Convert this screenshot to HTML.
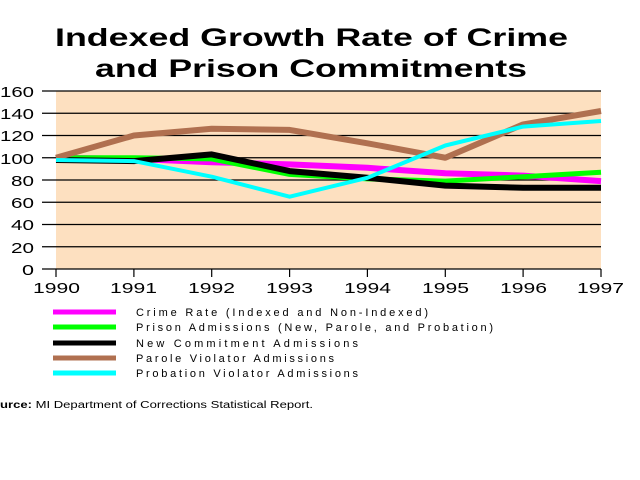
<!DOCTYPE html>
<html><head><style>body{margin:0;background:#fff}svg{display:block}</style></head><body>
<svg width="640" height="480" xmlns="http://www.w3.org/2000/svg" font-family="Liberation Sans, sans-serif">
<text x="55" y="46" font-size="25" font-weight="bold" textLength="513" lengthAdjust="spacingAndGlyphs">Indexed Growth Rate of Crime</text>
<text x="95" y="77" font-size="25" font-weight="bold" textLength="432" lengthAdjust="spacingAndGlyphs">and Prison Commitments</text>
<rect x="56" y="91" width="545" height="178" fill="#fde0c0"/>
<g stroke="#000" stroke-width="1.2">
<line x1="42" y1="91" x2="601" y2="91"/><line x1="42" y1="113.25" x2="601" y2="113.25"/><line x1="42" y1="135.5" x2="601" y2="135.5"/><line x1="42" y1="157.75" x2="601" y2="157.75"/><line x1="42" y1="180" x2="601" y2="180"/><line x1="42" y1="202.25" x2="601" y2="202.25"/><line x1="42" y1="224.5" x2="601" y2="224.5"/><line x1="42" y1="246.75" x2="601" y2="246.75"/><line x1="42" y1="269" x2="601" y2="269"/>
<line x1="56" y1="269" x2="56" y2="277"/><line x1="133.9" y1="269" x2="133.9" y2="277"/><line x1="211.7" y1="269" x2="211.7" y2="277"/><line x1="289.6" y1="269" x2="289.6" y2="277"/><line x1="367.4" y1="269" x2="367.4" y2="277"/><line x1="445.3" y1="269" x2="445.3" y2="277"/><line x1="523.1" y1="269" x2="523.1" y2="277"/><line x1="601" y1="269" x2="601" y2="277"/>
</g>
<g font-size="15">
<text x="0" y="97" textLength="34" lengthAdjust="spacingAndGlyphs">160</text><text x="0" y="119" textLength="34" lengthAdjust="spacingAndGlyphs">140</text><text x="0" y="141" textLength="34" lengthAdjust="spacingAndGlyphs">120</text><text x="0" y="164" textLength="34" lengthAdjust="spacingAndGlyphs">100</text><text x="11" y="186" textLength="23" lengthAdjust="spacingAndGlyphs">80</text><text x="11" y="208" textLength="23" lengthAdjust="spacingAndGlyphs">60</text><text x="11" y="230" textLength="23" lengthAdjust="spacingAndGlyphs">40</text><text x="11" y="253" textLength="23" lengthAdjust="spacingAndGlyphs">20</text><text x="22" y="275" textLength="12" lengthAdjust="spacingAndGlyphs">0</text>
</g>
<g font-size="15">
<text x="33" y="293" textLength="47" lengthAdjust="spacingAndGlyphs">1990</text><text x="110" y="293" textLength="47" lengthAdjust="spacingAndGlyphs">1991</text><text x="188" y="293" textLength="47" lengthAdjust="spacingAndGlyphs">1992</text><text x="266" y="293" textLength="47" lengthAdjust="spacingAndGlyphs">1993</text><text x="344" y="293" textLength="47" lengthAdjust="spacingAndGlyphs">1994</text><text x="422" y="293" textLength="47" lengthAdjust="spacingAndGlyphs">1995</text><text x="500" y="293" textLength="47" lengthAdjust="spacingAndGlyphs">1996</text><text x="577" y="293" textLength="47" lengthAdjust="spacingAndGlyphs">1997</text>
</g>
<g fill="none" stroke-linejoin="round">
<polyline stroke="#ff00ff" stroke-width="6" points="56,157.75 133.9,158.9 211.7,162.2 289.6,164.4 367.4,167.8 445.3,173.3 523.1,175.6 601,181.1"/>
<polyline stroke="#00ff00" stroke-width="5" points="56,157.75 133.9,157.75 211.7,158.9 289.6,174.4 367.4,178.9 445.3,181.1 523.1,176.7 601,172.2"/>
<polyline stroke="#000" stroke-width="6" points="56,160 133.9,161.1 211.7,154.4 289.6,171.1 367.4,177.8 445.3,185.6 523.1,187.8 601,187.8"/>
<polyline stroke="#b07050" stroke-width="6" points="56,157.75 133.9,135.5 211.7,128.8 289.6,129.9 367.4,143.3 445.3,157.75 523.1,124.4 601,111"/>
<polyline stroke="#00ffff" stroke-width="4" points="56,160 133.9,161.1 211.7,176.7 289.6,196.7 367.4,177.8 445.3,145.5 523.1,126.6 601,121"/>
</g>
<g stroke-width="5">
<line x1="53" y1="312" x2="116" y2="312" stroke="#ff00ff"/>
<line x1="53" y1="327" x2="116" y2="327" stroke="#00ff00"/>
<line x1="53" y1="343" x2="116" y2="343" stroke="#000"/>
<line x1="53" y1="358" x2="116" y2="358" stroke="#b07050"/>
<line x1="53" y1="373" x2="116" y2="373" stroke="#00ffff"/>
</g>
<g font-size="11">
<text x="136" y="316" textLength="292">Crime Rate (Indexed and Non-Indexed)</text>
<text x="136" y="331" textLength="357">Prison Admissions (New, Parole, and Probation)</text>
<text x="136" y="347" textLength="222">New Commitment Admissions</text>
<text x="136" y="362" textLength="198">Parole Violator Admissions</text>
<text x="136" y="377" textLength="222">Probation Violator Admissions</text>
</g>
<text x="0" y="408" font-size="10" textLength="313" lengthAdjust="spacingAndGlyphs"><tspan font-weight="bold">urce:</tspan> MI Department of Corrections Statistical Report.</text>
</svg>
</body></html>
